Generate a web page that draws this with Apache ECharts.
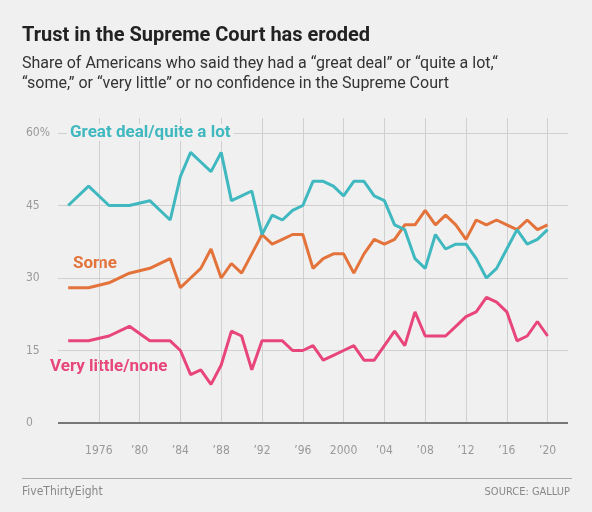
<!DOCTYPE html>
<html>
<head>
<meta charset="utf-8">
<script src="https://cdn.jsdelivr.net/npm/echarts@6/dist/echarts.min.js"></script>
<style>
  html, body { margin: 0; padding: 0; background: #f0f0f0; }
  #chart { width: 592px; height: 512px; }
</style>
</head>
<body>
<div id="chart"></div>
<script>
// survey years
const years = [1973, 1975, 1977, 1979, 1981, 1983, 1984, 1985, 1986, 1987, 1988, 1989, 1990, 1991,
  1992, 1993, 1994, 1995, 1996, 1997, 1998, 1999, 2000, 2001, 2002, 2003, 2004, 2005, 2006, 2007,
  2008, 2009, 2010, 2011, 2012, 2013, 2014, 2015, 2016, 2017, 2018, 2019, 2020];
const greatDeal = [45, 49, 45, 45, 46, 42, 51, 56, 54, 52, 56, 46, 47, 48,
  39, 43, 42, 44, 45, 50, 50, 49, 47, 50, 50, 47, 46, 41, 40, 34,
  32, 39, 36, 37, 37, 34, 30, 32, 36, 40, 37, 38, 40];
const some = [28, 28, 29, 31, 32, 34, 28, 30, 32, 36, 30, 33, 31, 35,
  39, 37, 38, 39, 39, 32, 34, 35, 35, 31, 35, 38, 37, 38, 41, 41,
  44, 41, 43, 41, 38, 42, 41, 42, 41, 40, 42, 40, 41];
const veryLittle = [17, 17, 18, 20, 17, 17, 15, 10, 11, 8, 12, 19, 18, 11,
  17, 17, 17, 15, 15, 16, 13, 14, 15, 16, 13, 13, 16, 19, 16, 23,
  18, 18, 18, 20, 22, 23, 26, 25, 23, 17, 18, 21, 18];
const xTicks = [1976, 1980, 1984, 1988, 1992, 1996, 2000, 2004, 2008, 2012, 2016, 2020];
const yTicks = [0, 15, 30, 45, 60];

const toPairs = vals => years.map((y, i) => [y, vals[i]]);
const cyan = '#3fb8bf', orange = '#e3733b', pink = '#e8467a';

// grid 0 spans 1972-2022; grid 1 spans 1976-2020 only, for the vertical lines
const L = 58, R = 24, W = 592 - L - R, pxYear = W / 50;

const chart = echarts.init(document.getElementById('chart'));
chart.setOption({
  backgroundColor: '#f0f0f0',
  animation: false,
  grid: [
    { left: L, right: R, top: 133, bottom: 89 },
    { left: L + 4 * pxYear, right: R + 2 * pxYear, top: 118, bottom: 89 }
  ],
  xAxis: [
    {
      type: 'value', min: 1972, max: 2022, interval: 4, gridIndex: 0,
      axisLine: { show: false }, axisTick: { show: false }, splitLine: { show: false },
      axisLabel: {
        color: '#999', fontFamily: 'DejaVu Sans Condensed', fontSize: 12, margin: 22,
        formatter: v => xTicks.includes(v) ? (v === 1976 || v === 2000 ? String(v) : '\u2019' + String(v).slice(2)) : ''
      }
    },
    {
      type: 'value', min: 1976, max: 2020, interval: 4, gridIndex: 1,
      axisLine: { show: false }, axisTick: { show: false }, axisLabel: { show: false },
      splitLine: { lineStyle: { color: '#d0d0d0', width: 1 } }
    }
  ],
  yAxis: [
    {
      type: 'value', min: 0, max: 60, interval: 15, gridIndex: 0,
      axisLine: { show: false }, axisTick: { show: false },
      splitLine: { lineStyle: { color: '#d0d0d0', width: 1 } },
      axisLabel: {
        color: '#999', fontFamily: 'DejaVu Sans Condensed', fontSize: 12, align: 'left', margin: 32,
        verticalAlign: 'middle',
        formatter: v => (yTicks.includes(v) ? (v === 60 ? '60%' : String(v)) : '')
      }
    },
    {
      type: 'value', min: 0, max: 60, gridIndex: 1, show: false, splitLine: { show: false }
    }
  ],
  series: [
    {
      type: 'line', data: toPairs(some), symbol: 'none', z: 2,
      lineStyle: { color: orange, width: 3 },
      markLine: {
        silent: true, symbol: 'none', label: { show: false },
        lineStyle: { color: '#777', width: 2, type: 'solid' },
        data: [{ yAxis: 0 }]
      }
    },
    { type: 'line', data: toPairs(greatDeal), symbol: 'none', z: 3, lineStyle: { color: cyan, width: 3 } },
    { type: 'line', data: toPairs(veryLittle), symbol: 'none', z: 3, lineStyle: { color: pink, width: 3 } }
  ],
  graphic: [
    { type: 'text', left: 22, top: 26, style: { text: 'Trust in the Supreme Court has eroded', fill: '#222', font: 'bold 20px Roboto' } },
    { type: 'text', left: 22, top: 54, style: { text: 'Share of Americans who said they had a \u201cgreat deal\u201d or \u201cquite a lot,\u201c\n\u201csome,\u201d or \u201cvery little\u201d or no confidence in the Supreme Court', fill: '#333', font: '16px Roboto', lineHeight: 20 } },
    { type: 'text', left: 67, top: 124, z: 10, style: { text: 'Great deal/quite a lot', fill: cyan, font: 'bold 17px Roboto', backgroundColor: '#f0f0f0', padding: [0, 3] } },
    { type: 'text', left: 73, top: 255, style: { text: 'Some', fill: orange, font: 'bold 17px Roboto' } },
    { type: 'text', left: 50, top: 358, style: { text: 'Very little/none', fill: pink, font: 'bold 17px Roboto' } },
    { type: 'rect', left: 22, top: 478, shape: { width: 550, height: 1 }, style: { fill: '#aaa' } },
    { type: 'text', left: 22, top: 486, style: { text: 'FiveThirtyEight', fill: '#888', font: '12px "DejaVu Sans Condensed"' } },
    { type: 'text', right: 22, top: 487, style: { text: 'SOURCE: GALLUP', fill: '#888', font: '11px "DejaVu Sans Condensed"' } }
  ]
});
</script>
</body>
</html>
